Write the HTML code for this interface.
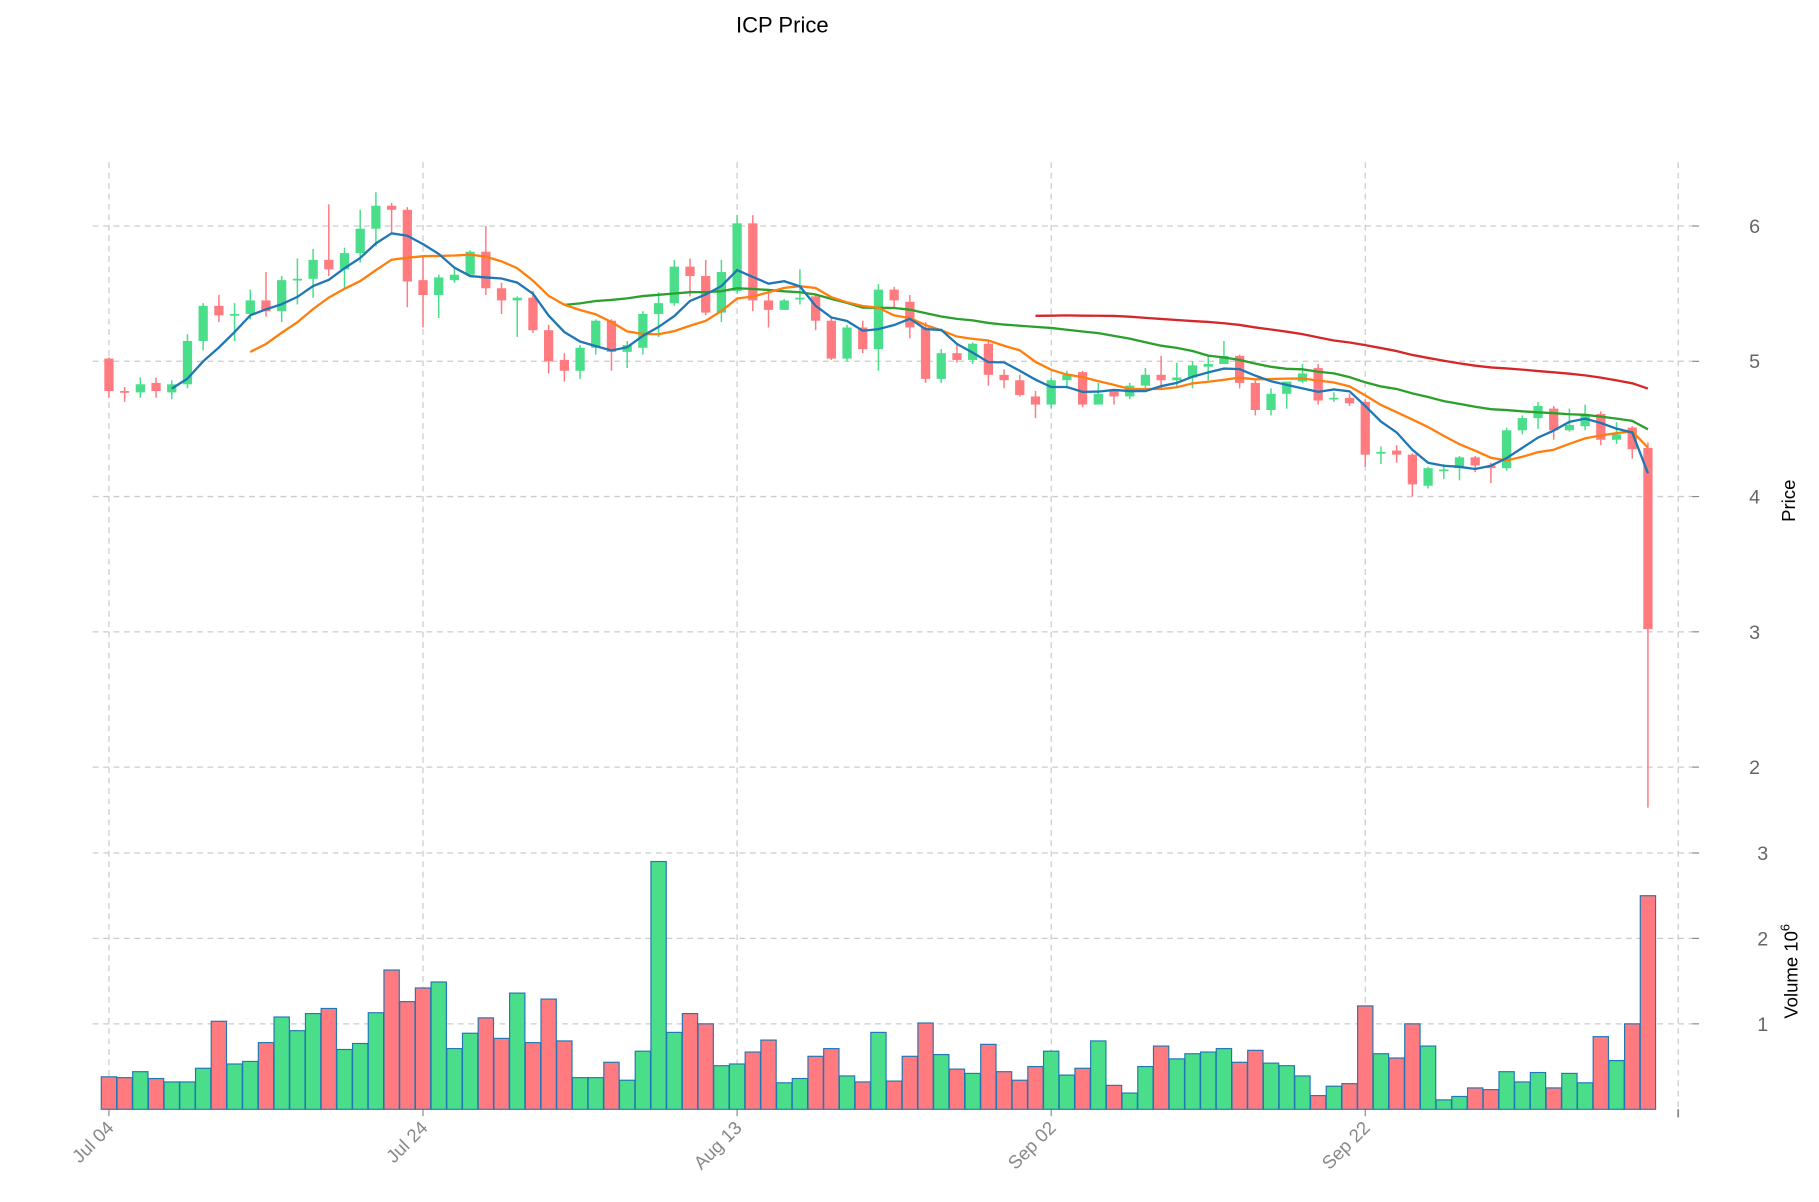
<!DOCTYPE html>
<html><head><meta charset="utf-8"><style>
html,body{margin:0;padding:0;background:#fff;}
svg{display:block;font-family:"Liberation Sans","DejaVu Sans",sans-serif;}
</style></head><body>
<svg id="c" width="1819" height="1202" viewBox="0 0 1569.5 1037" preserveAspectRatio="none" xmlns="http://www.w3.org/2000/svg"></svg>
<script>
const D=[[5.02,5.03,4.73,4.78],[4.78,4.81,4.70,4.77],[4.77,4.88,4.73,4.83],[4.84,4.88,4.73,4.78],[4.77,4.86,4.72,4.83],[4.83,5.20,4.80,5.15],[5.15,5.43,5.08,5.41],[5.41,5.49,5.29,5.34],[5.34,5.43,5.15,5.35],[5.35,5.53,5.31,5.45],
[5.45,5.66,5.33,5.37],[5.37,5.63,5.29,5.60],[5.60,5.76,5.42,5.61],[5.61,5.83,5.47,5.75],[5.75,6.16,5.63,5.68],[5.68,5.84,5.53,5.80],[5.80,6.12,5.73,5.98],[5.98,6.25,5.85,6.15],[6.15,6.17,5.94,6.12],[6.12,6.14,5.40,5.59],
[5.60,5.77,5.25,5.49],[5.49,5.64,5.32,5.62],[5.60,5.70,5.58,5.64],[5.64,5.82,5.69,5.81],[5.81,6.00,5.49,5.54],[5.54,5.58,5.35,5.45],[5.45,5.48,5.18,5.47],[5.47,5.52,5.21,5.23],[5.23,5.27,4.91,5.00],[5.01,5.06,4.85,4.93],
[4.93,5.12,4.87,5.10],[5.10,5.31,5.05,5.30],[5.30,5.31,4.93,5.07],[5.07,5.15,4.95,5.12],[5.10,5.37,5.05,5.35],[5.35,5.51,5.18,5.43],[5.43,5.75,5.41,5.70],[5.70,5.76,5.48,5.63],[5.63,5.75,5.34,5.36],[5.36,5.75,5.29,5.66],
[5.52,6.08,5.50,6.02],[6.02,6.08,5.37,5.45],[5.45,5.52,5.25,5.38],[5.38,5.46,5.38,5.45],[5.46,5.68,5.42,5.47],[5.48,5.50,5.23,5.30],[5.30,5.32,5.01,5.02],[5.02,5.27,5.00,5.25],[5.25,5.30,5.06,5.09],[5.09,5.57,4.93,5.53],
[5.53,5.55,5.39,5.45],[5.44,5.49,5.17,5.25],[5.25,5.29,4.84,4.87],[4.87,5.09,4.84,5.06],[5.06,5.12,4.99,5.01],[5.01,5.14,4.98,5.13],[5.13,5.15,4.82,4.90],[4.90,4.94,4.80,4.86],[4.86,4.90,4.74,4.75],[4.74,4.78,4.58,4.68],
[4.68,4.88,4.65,4.86],[4.86,4.93,4.80,4.90],[4.92,4.93,4.66,4.68],[4.68,4.84,4.68,4.76],[4.78,4.79,4.68,4.74],[4.74,4.84,4.72,4.82],[4.82,4.95,4.80,4.90],[4.90,5.04,4.80,4.86],[4.86,4.99,4.80,4.88],[4.88,5.00,4.80,4.97],
[4.96,5.05,4.86,4.98],[4.98,5.15,4.98,5.04],[5.04,5.05,4.80,4.84],[4.84,4.86,4.60,4.64],[4.64,4.80,4.60,4.76],[4.76,4.85,4.65,4.85],[4.85,4.98,4.84,4.91],[4.95,4.98,4.68,4.71],[4.72,4.77,4.70,4.73],[4.73,4.76,4.67,4.69],
[4.70,4.72,4.22,4.31],[4.32,4.37,4.24,4.33],[4.34,4.38,4.25,4.31],[4.31,4.32,4.00,4.09],[4.08,4.22,4.06,4.21],[4.19,4.24,4.13,4.20],[4.21,4.30,4.12,4.29],[4.29,4.30,4.18,4.23],[4.23,4.25,4.10,4.21],[4.21,4.51,4.19,4.49],
[4.49,4.60,4.46,4.58],[4.58,4.70,4.50,4.67],[4.65,4.67,4.42,4.49],[4.49,4.65,4.48,4.53],[4.52,4.68,4.49,4.61],[4.61,4.63,4.38,4.42],[4.42,4.55,4.39,4.46],[4.51,4.52,4.28,4.35],[4.36,4.40,1.70,3.02]];
const V=[0.38,0.37,0.44,0.36,0.32,0.32,0.48,1.03,0.53,0.56,0.78,1.08,0.92,1.12,1.18,0.70,0.77,1.13,1.63,1.26,1.42,1.49,0.71,0.89,1.07,0.83,1.36,0.78,1.29,0.80,0.37,0.37,0.55,0.34,0.68,2.90,0.90,1.12,1.00,0.51,0.53,0.67,0.81,0.31,0.36,0.62,0.71,0.39,0.32,0.90,0.33,0.62,1.01,0.64,0.47,0.42,0.76,0.44,0.34,0.50,0.68,0.40,0.48,0.80,0.28,0.19,0.50,0.74,0.59,0.65,0.67,0.71,0.55,0.69,0.54,0.51,0.39,0.16,0.27,0.30,1.21,0.65,0.60,1.00,0.74,0.11,0.15,0.25,0.23,0.44,0.32,0.43,0.25,0.42,0.31,0.85,0.57,1.00,2.50];
const X=i=>94+13.55*i, PY=p=>195+(6-p)*116.7, VY=v=>957-v*73.7;
const G='#4ade8a',R='#ff7b80';
let s='';
s+=`<text x="675" y="28" font-size="19" text-anchor="middle" fill="#000">ICP Price</text>`;
const gs='stroke="#cccccc" stroke-width="1.1" stroke-dasharray="5,4"';
[94,365,636,907,1178].forEach(x=>s+=`<line x1="${x}" y1="140" x2="${x}" y2="957" ${gs}/>`);
s+=`<line x1="1448" y1="140" x2="1448" y2="957" ${gs}/>`;
[2,3,4,5,6].forEach(p=>{const y=PY(p);s+=`<line x1="80" y1="${y}" x2="1460" y2="${y}" ${gs}/><line x1="1460" y1="${y}" x2="1466" y2="${y}" stroke="#888"/><text x="1514" y="${y+6}" font-size="17" fill="#666" text-anchor="middle">${p}</text>`;});
[1,2,3].forEach(v=>{const y=VY(v);s+=`<line x1="80" y1="${y}" x2="1460" y2="${y}" ${gs}/><line x1="1460" y1="${y}" x2="1466" y2="${y}" stroke="#888"/><text x="1521" y="${y+6}" font-size="17" fill="#666" text-anchor="middle">${v}</text>`;});
s+=`<line x1="1448" y1="957" x2="1448" y2="964" stroke="#888" stroke-width="1.5"/>`;
s+=`<text transform="translate(1549,432) rotate(-90)" font-size="16" text-anchor="middle" fill="#000">Price</text>`;
s+=`<text transform="translate(1551,838) rotate(-90)" font-size="16" text-anchor="middle" fill="#000">Volume  10<tspan dy="-7" font-size="11">6</tspan></text>`;
['Jul 04','Jul 24','Aug 13','Sep 02','Sep 22'].forEach((t,k)=>{const x=94+271*k;s+=`<line x1="${x}" y1="957" x2="${x}" y2="963" stroke="#888"/><text transform="translate(${x+5},974) rotate(-45)" font-size="16" fill="#888" text-anchor="end">${t}</text>`;});
V.forEach((v,i)=>{const c=D[i][3]>=D[i][0]?G:R;const y=VY(v);s+=`<rect x="${X(i)-6.6}" y="${y}" width="13.2" height="${957-y}" fill="${c}" stroke="#1f77b4" stroke-width="1"/>`;});
D.forEach((d,i)=>{const [o,h,l,c]=d;const col=c>=o?G:R;const x=X(i);s+=`<line x1="${x}" y1="${PY(h)}" x2="${x}" y2="${PY(l)}" stroke="${col}" stroke-width="1.3"/>`;const t=PY(Math.max(o,c)),b=PY(Math.min(o,c));s+=`<rect x="${x-4}" y="${t}" width="8" height="${Math.max(b-t,1.5)}" fill="${col}"/>`;});
function ma(n,col){let pts=[];for(let i=n-1;i<D.length;i++){let a=0;for(let j=i-n+1;j<=i;j++)a+=D[j][3];pts.push(X(i)+','+PY(a/n));}s+=`<polyline points="${pts.join(' ')}" fill="none" stroke="${col}" stroke-width="2"/>`;}
ma(60,'#d62728');ma(30,'#2ca02c');ma(10,'#ff7f0e');ma(5,'#1f77b4');
document.getElementById('c').innerHTML=s;
</script>
</body></html>
